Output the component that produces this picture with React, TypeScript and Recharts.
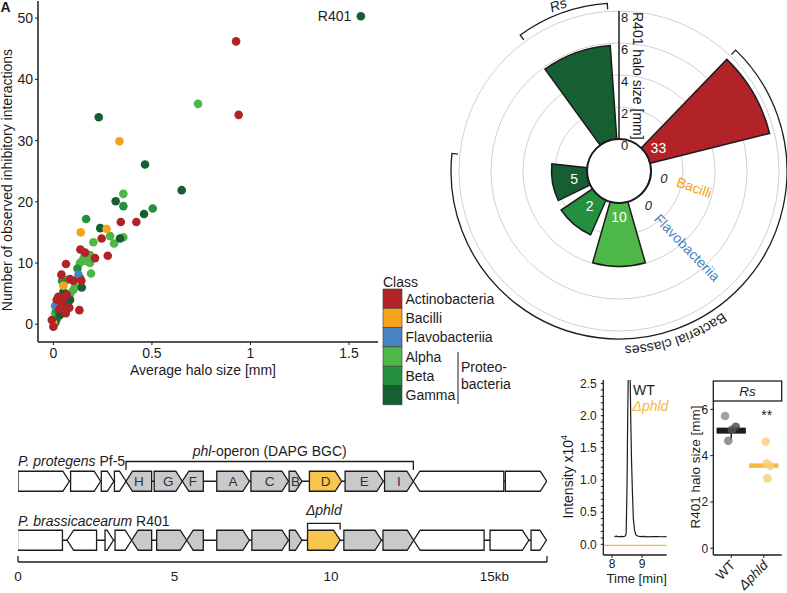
import {
  ScatterChart,
  Scatter,
  XAxis,
  YAxis,
  LabelList,
  Cell,
  RadialBarChart,
  RadialBar,
  PolarAngleAxis,
  PolarRadiusAxis,
  PolarGrid,
  BarChart,
  Bar,
  LineChart,
  Line,
  ComposedChart,
  ReferenceLine,
} from "recharts";

const FONT = '"Liberation Sans", Arial, Helvetica, sans-serif';
const INK = "#1c1c1c";
const PHLD_ORANGE = "#f5b840";

// ---------- panel A: halo size vs. inhibitory interactions ----------
const CLASS_NAMES = ["Actinobacteria", "Bacilli", "Flavobacteriia", "Alpha", "Beta", "Gamma"];
const CLASS_COLORS = ["#b22328", "#f7a21b", "#4783bf", "#4db848", "#22903f", "#155f33"];

// [average halo size (mm), observed inhibitory interactions]
const ACTINO_PTS = [
  [0.927, 46.2], [0.94, 34.2], [0.342, 16.7], [0.421, 16.7], [0.245, 14.0], [0.137, 12.2],
  [0.276, 11.2], [0.211, 10.8], [0.161, 11.7], [0.064, 9.85], [0.041, 8.1], [0.101, 7.1],
  [0.142, 7.1], [0.068, 4.8], [0.025, 4.5], [0.017, 4.0], [0.043, 3.2], [0.081, 2.7],
  [0.063, 1.8], [0.132, 2.3], [0.0, -0.4], [-0.008, 0.7], [0.051, 4.2], [0.03, 2.5],
  [0.06, 2.2], [0.085, 7.4],
];
const BACILLI_PTS = [[0.335, 29.9], [0.27, 15.6], [0.139, 15.0], [0.051, 6.3], [0.0, 0.2]];
const FLAVO_PTS = [[0.127, 8.1], [0.009, 3.0]];
const ALPHA_PTS = [
  [0.734, 36.0], [0.355, 21.3], [0.288, 14.4], [0.355, 14.2], [0.308, 13.2], [0.203, 13.4],
  [0.186, 11.3], [0.157, 11.0], [0.149, 10.5], [0.135, 10.0], [0.186, 10.0], [0.191, 8.3],
  [0.068, 7.2], [0.101, 5.6], [0.11, 6.1], [0.009, 1.8], [0.17, 10.3], [0.085, 5.0],
];
const BETA_PTS = [
  [0.355, 19.3], [0.504, 18.9], [0.166, 17.2], [0.122, 9.1], [0.017, 2.3], [0.02, 1.0],
  [0.044, 7.1], [0.078, 3.7],
];
const GAMMA_PTS = [
  [0.23, 33.8], [0.465, 26.1], [0.651, 21.9], [0.316, 20.1], [0.46, 18.0], [0.238, 15.7],
  [0.338, 14.0], [0.144, 6.0], [0.051, 5.3], [0.085, 4.0], [0.034, 1.5], [0.048, 3.4],
  [0.135, 7.5], [0.01, 0.3],
];
const R401_PT = [[1.56, 50.3]];

const HALO_X_DOMAIN = [-0.078, 1.647];
const HALO_Y_DOMAIN = [-2.9, 52.8];
const HALO_X_TICKS = [0, 0.5, 1, 1.5];
const HALO_Y_TICKS = [0, 10, 20, 30, 40, 50];

// ---------- panel B: rose plot of R401 halo size per class ----------
const SLOTS = ["gap-a", "Actinobacteria", "Bacilli", "Flavobacteriia", "Alpha", "Beta", "Gamma", "gap-b", "Rs"];
const SLOT_HALO = [null, 7.7, 0, 0, 3.97, 2.36, 2.22, null, 5.87];
const SLOT_N = [null, 33, 0, 0, 10, 2, 5, null, null];
const SLOT_TAGS = [null, null, "Bacilli", "Flavobacteriia", null, null, null, null, null];
const SLOT_COLORS = ["none", "#b22328", "#f7a21b", "#4783bf", "#4db848", "#22903f", "#155f33", "none", "#155f33"];
const TAG_COLORS: Record<string, string> = { Bacilli: "#f7a21b", Flavobacteriia: "#4783bf" };
const TAG_ROTATION: Record<string, number> = { Bacilli: 20, Flavobacteriia: 46 };
const ROSE_TICKS = [0, 2, 4, 6, 8];

// ---------- panel C: phl gene cluster ----------
// [start kb, end kb, strand (1 fwd, -1 rev, 0 box), kind (w white, g phl, y phlD, t truncated), label]
type Gene = [number, number, number, string, string];
const PF5_GENES: Gene[] = [
  [0.0, 1.64, 1, "w", ""], [1.68, 2.64, 1, "w", ""], [2.66, 3.06, 1, "w", ""], [3.08, 3.45, 1, "w", ""],
  [3.45, 4.27, -1, "g", "H"], [4.35, 5.25, 1, "g", "G"], [5.25, 5.92, -1, "g", "F"], [6.35, 7.39, 1, "g", "A"],
  [7.44, 8.64, 1, "g", "C"], [8.66, 9.07, 1, "g", "B"], [9.31, 10.34, 1, "y", "D"], [10.45, 11.67, 1, "g", "E"],
  [11.71, 12.63, 1, "g", "I"], [12.63, 15.52, -1, "w", ""], [15.57, 16.89, 1, "w", ""],
];
const R401_GENES: Gene[] = [
  [0.0, 1.42, 0, "t", ""], [1.57, 2.51, -1, "w", ""], [2.78, 3.05, 1, "w", ""], [3.1, 3.63, 1, "w", ""],
  [3.63, 4.27, -1, "g", ""], [4.43, 5.39, 1, "g", ""], [5.39, 5.92, -1, "g", ""], [6.35, 7.39, 1, "g", ""],
  [7.47, 8.64, 1, "g", ""], [8.67, 9.07, 1, "g", ""], [9.25, 10.29, 1, "y", ""], [10.41, 11.61, 1, "g", ""],
  [11.66, 12.64, 1, "g", ""], [12.64, 14.89, -1, "w", ""], [15.08, 16.32, 1, "w", ""], [16.39, 16.88, 1, "w", ""],
];
const GENE_ROWS = ["Pf-5", "spacer", "R401"];
const GENES: Record<string, Gene[]> = { "Pf-5": PF5_GENES, R401: R401_GENES };
const BACKBONE_END: Record<string, number> = { "Pf-5": 16.89, R401: 16.88 };
const KB_END = 16.9;
const KB_TICKS = [0, 5, 10, 15, 16.9];
const KB_TICK_LABELS = ["0", "5", "10", "15kb", ""];
const GENE_FILL: Record<string, string> = { w: "#ffffff", t: "#ffffff", g: "#c8c9cb", y: "#f8c54d" };

// ---------- panel D: DAPG chromatogram ----------
const CHROM_TIME = [
  7.71, 8.08, 8.15, 8.22, 8.3, 8.37, 8.43, 8.47, 8.5, 8.52, 8.545, 8.6, 8.625, 8.65, 8.68,
  8.71, 8.75, 8.79, 8.85, 8.95, 9.05, 9.2, 9.35, 9.5, 9.65, 9.82,
];
const WT_SIGNAL = [
  null, 0.12, 0.126, 0.117, 0.122, 0.119, 0.125, 0.16, 0.9, 1.9, 2.75, 2.75, 1.9, 1.3, 0.8,
  0.4, 0.22, 0.15, 0.13, 0.12, 0.125, 0.117, 0.122, 0.12, 0.118, 0.12,
];
const PHLD_SIGNAL = [
  -0.015, null, null, null, null, null, null, null, null, null, null, null, null, null, null,
  null, null, null, null, null, null, null, null, null, null, -0.015,
];
const CHROM_Y_TICKS = Array.from({ length: 26 }, (_, i) => i / 10);

// ---------- panel E: R401 halo on Rs ----------
const STRAINS = ["WT", "Δphld"];
const WT_X = [0.81, 0.91, 1.14, 1.02];
const WT_HALO = [5.71, 4.64, 5.25, 5.12];
const WT_SHADES = ["#8a8a8a", "#7a7a7a", "#444444", "#555555"];
const PHLD_X = [2.06, 2.09, 2.2, 2.11];
const PHLD_HALO = [4.6, 3.67, 3.55, 3.02];
const WT_BAR = 5.08;
const WT_LOW = 4.7;
const PHLD_BAR = 3.57;

// ---------- shared geometry for annotations ----------
const PC = { x: 619, y: 171 };
const SLOT_STEP = 40;
const BAR_PAD = 4;
const kbX = (k: number) => 18 + (k * 529) / KB_END;

function pol(r: number, th: number) {
  const a = (th * Math.PI) / 180;
  return [PC.x + r * Math.sin(a), PC.y - r * Math.cos(a)];
}

function arcD(r: number, a0: number, a1: number) {
  const [x0, y0] = pol(r, a0);
  const [x1, y1] = pol(r, a1);
  const large = a1 - a0 > 180 ? 1 : 0;
  return `M${x0},${y0} A${r},${r} 0 ${large} 1 ${x1},${y1}`;
}

function bracketD(r: number, a0: number, a1: number, tick: number) {
  const [sx, sy] = pol(r - tick, a0);
  const [ex, ey] = pol(r - tick, a1);
  return `M${sx},${sy} L${pol(r, a0).join(",")} ${arcD(r, a0, a1).replace(/^M[^A]*/, "")} L${ex},${ey}`;
}

function HaloScatter() {
  const series = [
    { pts: ALPHA_PTS, color: CLASS_COLORS[3] },
    { pts: BETA_PTS, color: CLASS_COLORS[4] },
    { pts: GAMMA_PTS, color: CLASS_COLORS[5] },
    { pts: FLAVO_PTS, color: CLASS_COLORS[2] },
    { pts: BACILLI_PTS, color: CLASS_COLORS[1] },
    { pts: ACTINO_PTS, color: CLASS_COLORS[0] },
  ];
  const tick = { fill: INK, fontSize: 14 };
  const frame = { stroke: INK, strokeWidth: 1.5 };
  return (
    <ScatterChart width={380} height={375} margin={{ top: 1, right: 2, bottom: 0, left: 0 }}>
      <XAxis type="number" dataKey="x" domain={HALO_X_DOMAIN} ticks={HALO_X_TICKS} interval={0}
        allowDataOverflow height={33} tickSize={3} tickMargin={3} tick={tick} axisLine={frame} tickLine={{ stroke: INK }} />
      <XAxis xAxisId="top" orientation="top" type="number" domain={HALO_X_DOMAIN} height={0}
        tick={false} tickLine={false} axisLine={frame} />
      <YAxis type="number" dataKey="y" domain={HALO_Y_DOMAIN} ticks={HALO_Y_TICKS} interval={0}
        allowDataOverflow width={38} tickSize={3} tickMargin={2} tick={tick} axisLine={frame} tickLine={{ stroke: INK }} />
      <YAxis yAxisId="right" orientation="right" type="number" domain={HALO_Y_DOMAIN} width={0}
        tick={false} tickLine={false} axisLine={frame} />
      {series.map((s, i) => (
        <Scatter key={i} data={s.pts.map(([x, y]) => ({ x, y }))} isAnimationActive={false}
          shape={(p: any) => <circle cx={p.cx} cy={p.cy} r={4.3} fill={s.color} />} />
      ))}
      <Scatter data={R401_PT.map(([x, y]) => ({ x, y, label: "R401" }))} isAnimationActive={false}
        shape={(p: any) => <circle cx={p.cx} cy={p.cy} r={4.3} fill={CLASS_COLORS[5]} />}>
        <LabelList dataKey="label" position="left" offset={5} fill={INK} fontSize={14} />
      </Scatter>
    </ScatterChart>
  );
}

const renderRadiusTick = (p: any) => (
  <text x={p.x + 2} y={p.y + 10.5} fontSize={13} fill={INK} textAnchor="start">
    {p.payload?.value}
  </text>
);

const renderCount = (p: any) => {
  const v = p.value;
  const vb = p.viewBox || {};
  if (v == null || v === "" || vb.cx == null) return null;
  const mid = (vb.startAngle + vb.endAngle) / 2;
  const rad = (-mid * Math.PI) / 180;
  const r = vb.innerRadius + 13.5;
  const zero = Number(v) === 0;
  return (
    <text x={vb.cx + r * Math.cos(rad)} y={vb.cy + r * Math.sin(rad)} textAnchor="middle"
      dominantBaseline="central" fontSize={zero ? 13 : 14} fontStyle={zero ? "italic" : "normal"}
      fill={zero ? INK : "#ffffff"}>
      {v}
    </text>
  );
};

const renderTag = (p: any) => {
  const v = p.value;
  const vb = p.viewBox || {};
  if (!v || vb.cx == null) return null;
  const mid = (vb.startAngle + vb.endAngle) / 2;
  const rad = (-mid * Math.PI) / 180;
  const r = vb.innerRadius + 27;
  const x = vb.cx + r * Math.cos(rad);
  const y = vb.cy + r * Math.sin(rad);
  return (
    <text x={x} y={y} textAnchor="start" dominantBaseline="central" fontSize={14}
      fill={TAG_COLORS[v]} transform={`rotate(${TAG_ROTATION[v]} ${x} ${y})`}>
      {v}
    </text>
  );
};

function RosePlot() {
  const data = SLOTS.map((slot, i) => ({ slot, halo: SLOT_HALO[i], n: SLOT_N[i], tag: SLOT_TAGS[i] }));
  // the band of the first slot starts at 12 o'clock and the slots run clockwise
  return (
    <RadialBarChart width={387} height={380} cx={PC.x - 400} cy={PC.y} innerRadius={32} outerRadius={160}
      startAngle={90 - SLOT_STEP} endAngle={-270 - SLOT_STEP} layout="centric" data={data}
      margin={{ top: 0, right: 0, bottom: 0, left: 0 }}>
      <PolarGrid gridType="circle" radialLines={false} stroke="#c4c4c4" strokeWidth={0.8} />
      <PolarAngleAxis type="category" dataKey="slot" tick={false} tickLine={false} axisLine={false} />
      <PolarRadiusAxis type="number" angle={90} domain={[0, 8]} ticks={ROSE_TICKS}
        axisLine={{ stroke: INK, strokeWidth: 1.5 }} tickLine={false} tick={renderRadiusTick} />
      <RadialBar dataKey="halo" isAnimationActive={false}>
        {data.map((d, i) => (
          <Cell key={d.slot} fill={SLOT_COLORS[i]} stroke={d.halo == null ? "none" : INK} strokeWidth={1.5} />
        ))}
        <LabelList dataKey="n" content={renderCount} />
        <LabelList dataKey="tag" content={renderTag} />
      </RadialBar>
    </RadialBarChart>
  );
}

const backboneShape = (p: any) => {
  if (!(p.width > 0)) return <g />;
  const cy = p.y + p.height / 2;
  return <line x1={p.x} x2={p.x + p.width} y1={cy} y2={cy} stroke={INK} strokeWidth={1.3} />;
};

function geneShape(i: number) {
  return (p: any) => {
    const g = GENES[p.payload?.row]?.[i];
    if (!g || !(p.width > 0)) return <g />;
    const { x, y, width: w, height: h } = p;
    const [, , strand, kind, name] = g;
    const head = Math.min(6.5, w);
    let pts: number[][];
    if (strand > 0) pts = [[x, y], [x + w - head, y], [x + w, y + h / 2], [x + w - head, y + h], [x, y + h]];
    else if (strand < 0) pts = [[x + w, y], [x + head, y], [x, y + h / 2], [x + head, y + h], [x + w, y + h]];
    else pts = [[x, y], [x + w, y], [x + w, y + h], [x, y + h]];
    return (
      <g>
        {kind === "t" ? (
          <g>
            <rect x={x} y={y} width={w} height={h} fill="#fff" />
            <path d={`M${x},${y} H${x + w} V${y + h} H${x}`} fill="none" stroke={INK} strokeWidth={1.3} />
            <line x1={x} x2={x} y1={y} y2={y + h} stroke="#555" strokeWidth={1} strokeDasharray="1 1.5" />
          </g>
        ) : (
          <polygon points={pts.map((q) => q.join(",")).join(" ")} fill={GENE_FILL[kind]} stroke={INK}
            strokeWidth={1.3} strokeLinejoin="miter" />
        )}
        {name && (
          <text x={x + w / 2} y={y + h / 2} textAnchor="middle" dominantBaseline="central" fontSize={13.5} fill="#333">
            {name}
          </text>
        )}
      </g>
    );
  };
}

const renderKbTick = (p: any) => {
  const v = p.payload?.value;
  const idx = KB_TICKS.indexOf(v);
  const lab = KB_TICK_LABELS[idx];
  const end = idx === 0 || idx === KB_TICKS.length - 1;
  return (
    <g>
      {end && <line x1={p.x} x2={p.x} y1={p.y} y2={p.y - 6} stroke={INK} strokeWidth={1.3} />}
      {lab && (
        <text x={lab.endsWith("kb") ? p.x - 7.8 : p.x} y={p.y + 19} textAnchor={lab.endsWith("kb") ? "start" : "middle"}
          fontSize={13.5} fill={INK}>
          {lab}
        </text>
      )}
    </g>
  );
};

function GeneMap() {
  const table = GENE_ROWS.map((row) => {
    const o: any = { row };
    const gs = GENES[row];
    if (gs) {
      o.bb = [0, BACKBONE_END[row]];
      gs.forEach((g, i) => (o[`g${i}`] = [g[0], g[1]]));
    }
    return o;
  });
  const keys = Array.from({ length: 16 }, (_, i) => `g${i}`);
  return (
    <BarChart width={560} height={153} layout="vertical" data={table} barSize={20} barGap={-20}
      margin={{ top: 26.25, right: 13, bottom: 0, left: 18 }}>
      <XAxis type="number" domain={[0, KB_END]} ticks={KB_TICKS} interval={0} allowDataOverflow height={31}
        tickSize={0} tickMargin={0} tickLine={false} axisLine={{ stroke: INK, strokeWidth: 1.3 }} tick={renderKbTick} />
      <YAxis type="category" dataKey="row" hide padding={{ top: 0, bottom: 7.25 }} />
      <Bar dataKey="bb" isAnimationActive={false} shape={backboneShape} />
      {keys.map((k, i) => (
        <Bar key={k} dataKey={k} isAnimationActive={false} shape={geneShape(i)} />
      ))}
    </BarChart>
  );
}

const renderIntensityTick = (p: any) => {
  const v = p.payload?.value;
  if (Math.round(v * 10) % 5 !== 0) return <g />;
  return (
    <text x={p.x} y={p.y} dy={4.2} textAnchor="end" fontSize={12} fill={INK}>
      {Number(v).toFixed(1)}
    </text>
  );
};

function Chromatogram() {
  const table = CHROM_TIME.map((t, i) => ({ t, wt: WT_SIGNAL[i], phld: PHLD_SIGNAL[i] }));
  const frame = { stroke: INK, strokeWidth: 1.3 };
  const xDom = [7.71, 9.82];
  const yDom = [-0.166, 2.555];
  return (
    <LineChart width={110} height={218} data={table} margin={{ top: 5, right: 3.3, bottom: 0, left: 0 }}>
      <XAxis type="number" dataKey="t" domain={xDom} ticks={[8, 9]} interval={0} allowDataOverflow height={38}
        tickSize={3} tickMargin={1.5} tick={{ fill: INK, fontSize: 12 }} axisLine={frame} tickLine={{ stroke: INK }} />
      <XAxis xAxisId="top" orientation="top" type="number" domain={xDom} height={0} tick={false} tickLine={false} axisLine={frame} />
      <YAxis type="number" domain={yDom} ticks={CHROM_Y_TICKS} interval={0} allowDataOverflow width={43.3}
        tickSize={2.5} tickMargin={4} tick={renderIntensityTick} axisLine={frame} tickLine={{ stroke: INK }} />
      <YAxis yAxisId="right" orientation="right" type="number" domain={yDom} width={0} tick={false} tickLine={false} axisLine={frame} />
      <Line dataKey="phld" stroke={PHLD_ORANGE} strokeWidth={1.2} dot={false} connectNulls isAnimationActive={false} />
      <Line dataKey="wt" stroke={INK} strokeWidth={1.2} dot={false} isAnimationActive={false} />
    </LineChart>
  );
}

const renderStrainTick = (p: any) => {
  const v = p.payload?.value;
  const x = p.x + 5;
  const y = p.y + 6;
  return (
    <text x={x} y={y} textAnchor="end" fontSize={13.5} fill={INK} fontStyle={v === 2 ? "italic" : "normal"}
      transform={`rotate(-45 ${x} ${y})`}>
      {STRAINS[v - 1]}
    </text>
  );
};

function HaloStrip() {
  const wt = WT_X.map((x, i) => ({ x, y: WT_HALO[i] }));
  const phld = PHLD_X.map((x, i) => ({ x, y: PHLD_HALO[i] }));
  const frame = { stroke: INK, strokeWidth: 1.3 };
  const xDom = [0.45, 2.55];
  const yDom = [-0.29, 6.36];
  const dot = (p: any) => <circle cx={p.cx} cy={p.cy} r={4.3} fill={p.fill} fillOpacity={0.8} />;
  return (
    <ComposedChart width={117} height={218} margin={{ top: 26, right: 5.3, bottom: 0, left: 0 }}>
      <XAxis type="number" dataKey="x" domain={xDom} ticks={[1, 2]} interval={0} height={38}
        tickSize={3} tickMargin={2} tick={renderStrainTick} axisLine={frame} tickLine={{ stroke: INK }} />
      <XAxis xAxisId="top" orientation="top" type="number" domain={xDom} height={0} tick={false} tickLine={false} axisLine={frame} />
      <YAxis type="number" dataKey="y" domain={yDom} ticks={[0, 2, 4, 6]} interval={0} width={43.3}
        tickSize={3} tickMargin={2} tick={{ fill: INK, fontSize: 12 }} axisLine={frame} tickLine={{ stroke: INK }} />
      <YAxis yAxisId="right" orientation="right" type="number" domain={yDom} width={0} tick={false} tickLine={false} axisLine={frame} />
      <ReferenceLine segment={[{ x: 1, y: WT_LOW }, { x: 1, y: WT_BAR }]} stroke={INK} strokeWidth={1.5} />
      <Scatter data={wt} isAnimationActive={false} shape={dot}>
        {wt.map((_, i) => <Cell key={i} fill={WT_SHADES[i]} />)}
      </Scatter>
      <ReferenceLine segment={[{ x: 0.55, y: WT_BAR }, { x: 1.45, y: WT_BAR }]} stroke={INK} strokeWidth={6} />
      <Scatter data={phld} isAnimationActive={false} shape={dot}>
        {phld.map((_, i) => <Cell key={i} fill="#f9cf72" />)}
      </Scatter>
      <ReferenceLine segment={[{ x: 1.55, y: PHLD_BAR }, { x: 2.45, y: PHLD_BAR }]} stroke={PHLD_ORANGE} strokeWidth={4.5} />
    </ComposedChart>
  );
}

function Overlay() {
  const t = { fill: INK, fontSize: 14 };
  const legStep = 19.3;
  const pf5Operon = [PF5_GENES[4][0], PF5_GENES[12][1]];
  const phlD = R401_GENES[10];
  const rsA0 = 8 * SLOT_STEP + BAR_PAD;
  const rsA1 = 9 * SLOT_STEP - BAR_PAD;
  const clA0 = 1 * SLOT_STEP + BAR_PAD;
  const clA1 = 7 * SLOT_STEP - BAR_PAD;
  const [rsx, rsy] = pol(178, -20);
  return (
    <svg width={787} height={593} style={{ position: "absolute", left: 0, top: 0, pointerEvents: "none" }}>
      <defs>
        <path id="bc-arc" d={arcD(175, 140, 182)} />
      </defs>
      <text x={0.5} y={12} fontSize={14} fontWeight="bold" fill={INK}>A</text>

      {/* panel A titles */}
      <text x={203} y={375} textAnchor="middle" {...t}>Average halo size [mm]</text>
      <text transform="translate(12,180) rotate(-90)" textAnchor="middle" {...t}>
        Number of observed inhibitory interactions
      </text>

      {/* class legend */}
      <text x={383} y={286.5} {...t}>Class</text>
      {CLASS_NAMES.map((name, i) => (
        <g key={name}>
          <rect x={383} y={289 + i * legStep} width={19} height={legStep} fill={CLASS_COLORS[i]} stroke="#3a3a3a" strokeWidth={0.6} />
          <text x={405.5} y={289 + i * legStep + legStep / 2} dominantBaseline="central" {...t}>{name}</text>
        </g>
      ))}
      <line x1={458} x2={458} y1={352} y2={404} stroke={INK} strokeWidth={1} />
      <text x={461} y={367} dominantBaseline="central" {...t}>Proteo-</text>
      <text x={461} y={383.5} dominantBaseline="central" {...t}>bacteria</text>

      {/* rose plot decorations */}
      <circle cx={PC.x} cy={PC.y} r={32} fill="none" stroke={INK} strokeWidth={2} />
      <text transform={`translate(632.7,75.8) rotate(90)`} textAnchor="middle" {...t}>R401 halo size [mm]</text>
      <path d={bracketD(168, rsA0, rsA1, 6)} fill="none" stroke={INK} strokeWidth={1.3} />
      <path d={bracketD(168, clA0, clA1, 6)} fill="none" stroke={INK} strokeWidth={1.3} />
      <text x={rsx} y={rsy + 1} textAnchor="middle" dominantBaseline="central" transform={`rotate(-20 ${rsx} ${rsy + 1})`}
        fontStyle="italic" {...t}>Rs</text>
      <text {...t}>
        <textPath href="#bc-arc" startOffset="50%" textAnchor="middle">Bacterial classes</textPath>
      </text>

      {/* gene map labels */}
      <text x={18} y={466} {...t}><tspan fontStyle="italic">P. protegens</tspan> Pf-5</text>
      <path d={`M${kbX(pf5Operon[0])},470 V461.5 H${kbX(pf5Operon[1])} V470`} fill="none" stroke={INK} strokeWidth={1.3} />
      <text x={(kbX(pf5Operon[0]) + kbX(pf5Operon[1])) / 2} y={456} textAnchor="middle" {...t}>
        <tspan fontStyle="italic">phl</tspan>-operon (DAPG BGC)
      </text>
      <text x={18} y={525.5} {...t}><tspan fontStyle="italic">P. brassicacearum</tspan> R401</text>
      <path d={`M${kbX(phlD[0])},529.5 V523.3 H${kbX(phlD[1])} V529.5`} fill="none" stroke={INK} strokeWidth={1.3} />
      <text x={(kbX(phlD[0]) + kbX(phlD[1])) / 2} y={515} textAnchor="middle" fontStyle="italic" {...t}>Δphld</text>

      {/* chromatogram */}
      <text transform="translate(573,476.7) rotate(-90)" textAnchor="middle" {...t}>
        Intensity x10<tspan fontSize={9} dy={-6}>4</tspan>
      </text>
      <text x={636.7} y={583} textAnchor="middle" fill={INK} fontSize={13}>Time [min]</text>
      <text x={633} y={395} {...t}>WT</text>
      <text x={632.5} y={410.5} fontStyle="italic" fontSize={14} fill={PHLD_ORANGE}>Δphld</text>

      {/* halo on Rs */}
      <text transform="translate(699.5,467) rotate(-90)" textAnchor="middle" fill={INK} fontSize={13.5}>R401 halo size [mm]</text>
      <rect x={713.3} y={381} width={68.4} height={20} fill="#fff" stroke={INK} strokeWidth={1.3} />
      <text x={747.5} y={396} textAnchor="middle" fontStyle="italic" fill={INK} fontSize={13.5}>Rs</text>
      <text x={766.7} y={420} textAnchor="middle" {...t}>**</text>
    </svg>
  );
}

export default function App() {
  return (
    <div style={{ position: "absolute", left: 0, top: 0, width: 787, height: 593, background: "#fff", fontFamily: FONT, overflow: "hidden" }}>
      <div style={{ position: "absolute", left: 0, top: 0 }}><HaloScatter /></div>
      <div style={{ position: "absolute", left: 400, top: 0 }}><RosePlot /></div>
      <div style={{ position: "absolute", left: 0, top: 440 }}><GeneMap /></div>
      <div style={{ position: "absolute", left: 560, top: 375 }}><Chromatogram /></div>
      <div style={{ position: "absolute", left: 670, top: 375 }}><HaloStrip /></div>
      <Overlay />
    </div>
  );
}
